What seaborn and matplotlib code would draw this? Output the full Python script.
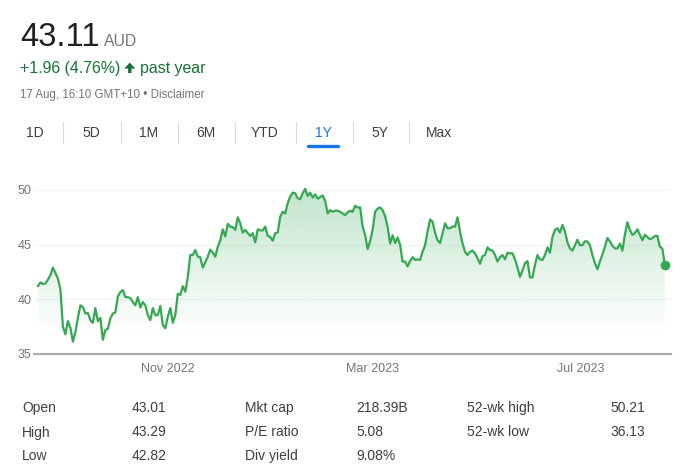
import numpy as np
import pandas as pd
import matplotlib
matplotlib.use("Agg")
import matplotlib.pyplot as plt
import matplotlib.dates as mdates
from matplotlib.lines import Line2D
from matplotlib.patches import Polygon
import seaborn as sns

# ---------------- data ----------------
prices = [
    41.2, 41.55, 41.4, 41.45, 41.8, 42.2, 42.9, 42.4, 41.9, 40.9,
    37.5, 36.8, 38.0, 37.4, 36.13, 37.0, 38.3, 39.45, 39.3, 38.7,
    38.75, 38.1, 37.85, 39.2, 38.0, 38.3, 36.3, 37.2, 37.3, 38.25,
    38.7, 38.8, 40.25, 40.65, 40.85, 40.2, 40.2, 40.1, 39.75, 39.45,
    40.2, 39.25, 39.75, 39.45, 38.55, 38.1, 39.2, 38.55, 38.55, 39.4,
    37.65, 37.35, 38.4, 39.2, 37.85, 38.55, 40.5, 40.4, 41.2, 40.7,
    42.05, 44.05, 44.05, 44.5, 43.9, 43.85, 42.9, 43.4, 43.9, 44.55,
    44.25, 43.9, 44.8, 45.4, 46.4, 45.75, 46.9, 46.65, 46.6, 46.35,
    47.5, 46.95, 46.1, 46.35, 46.05, 45.8, 46.05, 45.2, 46.4, 46.3,
    46.3, 46.65, 45.8, 45.7, 45.35, 46.05, 46.1, 47.55, 48.0, 47.85,
    48.8, 49.4,
    49.75, 49.7, 49.25, 49.15, 49.7, 50.1, 49.45, 49.75, 49.3, 49.6,
    49.2, 49.35, 49.5, 49.0, 47.85, 48.15, 48.0, 48.1, 48.1, 48.0,
    47.85, 47.7, 47.95, 48.1, 48.0, 48.55, 48.4, 48.4, 46.65, 45.9,
    44.6, 45.3, 46.35, 48.0, 48.3, 48.4, 48.15, 47.6, 46.65, 45.1,
    45.85, 45.15, 45.65, 45.0, 43.45, 43.45, 43.0, 43.5, 43.85, 43.6,
    43.65, 43.6, 44.35,
    44.95, 46.2, 47.3, 47.1, 46.1, 45.4, 45.15, 46.05, 46.95, 46.5,
    46.5, 46.65, 46.65, 47.5, 46.15, 45.1, 44.35, 44.05, 44.35, 44.45,
    44.2, 43.75, 43.25, 43.95, 44.05, 44.75, 44.5, 44.45, 44.05, 43.45,
    43.85, 44.05, 43.65, 44.25, 44.2, 44.2, 43.65, 42.9, 42.05, 42.65,
    43.3, 43.5, 42.0, 42.0, 43.15, 44.05, 43.65, 43.6, 44.05, 44.75,
    44.25, 45.7,
    46.35, 46.5, 46.1, 46.8, 46.2, 45.2, 44.65, 44.45, 44.95, 45.45,
    44.95, 44.95, 45.3, 45.3, 44.95, 44.05, 43.3, 42.75, 43.45, 44.1,
    44.8, 45.6, 45.3, 44.9, 44.65, 44.65, 45.1, 44.45, 45.9, 47.05,
    46.35, 45.9, 46.05, 46.4, 45.9, 45.4, 45.9, 45.7, 45.5, 45.6,
    45.8, 45.8, 44.8, 44.65, 43.11,
]
start_date = "2022-08-17"
end_date = "2023-08-19"
y_ticks = [35, 40, 45, 50]
x_tick_dates = ["2022-11-01", "2023-03-01", "2023-07-01"]
x_tick_labels = ["Nov 2022", "Mar 2023", "Jul 2023"]
tabs = ["1D", "5D", "1M", "6M", "YTD", "1Y", "5Y", "Max"]
active_tab = "1Y"
price_now = "43.11"
currency = "AUD"
change_text = "+1.96 (4.76%)"
period_text = "past year"
stamp_text = "17 Aug, 16:10 GMT+10 \u2022 Disclaimer"
stat_col1_labels = ["Open", "High", "Low"]
stat_col1_values = ["43.01", "43.29", "42.82"]
stat_col2_labels = ["Mkt cap", "P/E ratio", "Div yield"]
stat_col2_values = ["218.39B", "5.08", "9.08%"]
stat_col3_labels = ["52-wk high", "52-wk low"]
stat_col3_values = ["50.21", "36.13"]

# ---------------- style ----------------
sns.set_style("white")
FONT = ["Liberation Sans", "DejaVu Sans"]
plt.rcParams["font.family"] = FONT
GREEN = "#34a853"
GREEN_TXT = "#137333"
DARK = "#202124"
GRAY = "#70757a"
MID = "#3c4043"
BLUE = "#1a73e8"

W, H = 687, 474
fig = plt.figure(figsize=(W / 100, H / 100), dpi=100)
fig.patch.set_facecolor("white")


def fx(px):
    return px / W


def fy(py):
    return 1 - py / H


# ---------------- header ----------------
fig.text(fx(20), fy(46.5), price_now, fontsize=23.5, color=DARK, va="baseline", ha="left")
fig.text(fx(104), fy(46.5), currency, fontsize=11.3, color=GRAY, va="baseline", ha="left")
fig.text(fx(20), fy(73.3), change_text, fontsize=11.4, color=GREEN_TXT, va="baseline", ha="left")
# filled up-arrow icon
arrow_pts = [(124.2, 68.6), (129.8, 62.6), (135.4, 68.6), (131.5, 68.6), (131.5, 73.0),
             (128.1, 73.0), (128.1, 68.6)]
fig.add_artist(Polygon([(fx(px), fy(py)) for px, py in arrow_pts], closed=True,
                       facecolor=GREEN_TXT, edgecolor="none", transform=fig.transFigure))
fig.text(fx(140), fy(73.3), period_text, fontsize=11.4, color=GREEN_TXT, va="baseline", ha="left")
fig.text(fx(20), fy(98), stamp_text, fontsize=8.3, color=GRAY, va="baseline", ha="left")

# ---------------- tabs ----------------
tab_centers = [35, 91.7, 148.3, 205.7, 264.3, 323.3, 380, 439.3]
sep_x = [63.3, 120.7, 177.7, 235, 295.7, 352.7, 409.3]
for name, cx in zip(tabs, tab_centers):
    fig.text(fx(cx), fy(133.3), name, fontsize=10, color=BLUE if name == active_tab else MID,
             ha="center", va="center")
for sx in sep_x:
    fig.add_artist(Line2D([fx(sx), fx(sx)], [fy(122), fy(143)], color="#dadce0", lw=0.8,
                          transform=fig.transFigure))
ai = tabs.index(active_tab)
fig.add_artist(Line2D([fx(tab_centers[ai] - 15), fx(tab_centers[ai] + 15)], [fy(145.5), fy(145.5)],
                      color=BLUE, lw=2.4, solid_capstyle="round", transform=fig.transFigure))

# ---------------- chart ----------------
ax = fig.add_axes([fx(34), fy(354), (671 - 34) / W, (354 - 179) / H])
dates = pd.date_range(start_date, end_date, periods=len(prices))
df = pd.DataFrame({"date": dates, "price": prices})

x0 = mdates.date2num(pd.Timestamp("2022-11-01")) - 78.3
x1 = mdates.date2num(pd.Timestamp("2022-11-01")) + 294.6

poly = ax.fill_between(df["date"], df["price"], 35, color="none", lw=0)
ny = 256
alpha = np.clip((np.linspace(35, 51, ny) - 37.0) / (50 - 37.0), 0, None) * 0.30
rgba = np.zeros((ny, 1, 4))
rgba[..., 0] = 52 / 255
rgba[..., 1] = 168 / 255
rgba[..., 2] = 83 / 255
rgba[:, 0, 3] = alpha
im = ax.imshow(rgba, extent=[x0, x1, 35, 51], aspect="auto", origin="lower", zorder=1,
               interpolation="bilinear")
im.set_clip_path(poly.get_paths()[0], transform=ax.transData)

sns.lineplot(data=df, x="date", y="price", color=GREEN, lw=1.6, ax=ax, zorder=3)
ax.plot([df["date"].iloc[-1]], [df["price"].iloc[-1]], "o", color=GREEN, ms=6, zorder=4)

ax.set_xlim(x0, x1)
ax.set_ylim(35, 51)
ax.set_xlabel("")
ax.set_ylabel("")
ax.set_yticks(y_ticks)
ax.set_yticklabels([str(t) for t in y_ticks])
ax.set_xticks([pd.Timestamp(d) for d in x_tick_dates])
ax.set_xticklabels(x_tick_labels)
for t in [40, 45, 50]:
    ax.axhline(t, color="#f1f3f4", lw=0.9, zorder=0)
for s in ["top", "right", "left"]:
    ax.spines[s].set_visible(False)
ax.spines["bottom"].set_color("#a8acb1")
ax.spines["bottom"].set_linewidth(1.6)
ax.tick_params(axis="x", length=4.5, width=1.0, color="#a8acb1", labelcolor=GRAY,
               labelsize=9, pad=2)
ax.tick_params(axis="y", length=0, labelcolor=GRAY, labelsize=9, pad=2)
ax.set_facecolor("white")

# ---------------- stats ----------------
rows_y = [412.3, 436.5, 460.3]
cols = [(22, 132, stat_col1_labels, stat_col1_values),
        (245, 356, stat_col2_labels, stat_col2_values),
        (467, 610, stat_col3_labels, stat_col3_values)]
for lx, vx, labs, vals in cols:
    for ry, lab, val in zip(rows_y, labs, vals):
        fig.text(fx(lx), fy(ry), lab, fontsize=10, color=MID, ha="left", va="baseline")
        fig.text(fx(vx), fy(ry), val, fontsize=10, color=MID, ha="left", va="baseline")

fig.savefig("out.png", dpi=100, facecolor="white")
